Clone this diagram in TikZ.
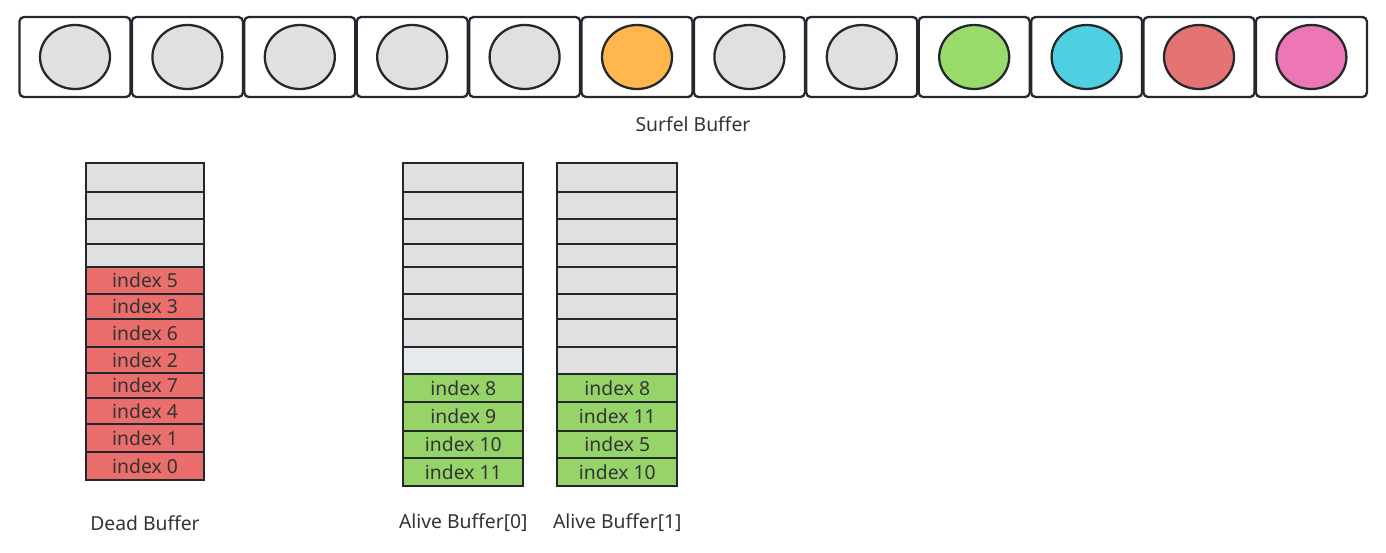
\documentclass[tikz,border=0pt]{standalone}
\usepackage{fontspec}
\setmainfont{Noto Sans}
\usepackage{tikz}
\usetikzlibrary{positioning, shapes.geometric}
\definecolor{cellLine}{HTML}{23282E}
\definecolor{labelText}{HTML}{333333}
\definecolor{emptyGrey}{HTML}{E0E0E0}
\definecolor{freshGrey}{HTML}{E7EAED}
\definecolor{deadRed}{HTML}{EA6E6B}
\definecolor{aliveGreen}{HTML}{96D46A}
\definecolor{surfOrange}{HTML}{FFB74D}
\definecolor{surfGreen}{HTML}{98DB6B}
\definecolor{surfCyan}{HTML}{4DD0E1}
\definecolor{surfRed}{HTML}{E57373}
\definecolor{surfPink}{HTML}{EC77B4}
\tikzset{
  slot/.style={draw=cellLine, line width=1.3pt, rounded corners=2.5pt, fill=white,
    minimum width=2.22cm, minimum height=1.6cm, inner sep=0pt},
  surfel/.style={ellipse, draw=cellLine, line width=1.3pt,
    minimum width=1.4cm, minimum height=1.28cm, inner sep=0pt},
  cell/.style={draw=cellLine, line width=1.3pt, inner sep=0pt,
    font=\fontsize{11}{13}\selectfont, text=labelText},
  caption/.style={font=\fontsize{11}{13}\selectfont, text=labelText}
}

\begin{document}
\begin{tikzpicture}[x=0.02cm, y=-0.02cm]
  \useasboundingbox (0,0) rectangle (1386,552);
  % ── Surfel buffer: twelve slots, five of them in use
  \foreach \i/\c in {0/emptyGrey,1/emptyGrey,2/emptyGrey,3/emptyGrey,4/emptyGrey,5/surfOrange,
                     6/emptyGrey,7/emptyGrey,8/surfGreen,9/surfCyan,10/surfRed,11/surfPink} {
    \node[slot] (slot\i) at ({75+\i*112.4}, 57) {};
    \node[surfel, fill=\c] (surfel\i) at (slot\i.center) {};
  }
  \node[caption] (surfelLabel) at (693, 124) {Surfel Buffer};
  % ── Dead buffer: free indices stacked from the bottom
  \foreach \t/\b/\c/\txt [count=\n] in {163/192/emptyGrey/{}, 192/219/emptyGrey/{}, 219/244/emptyGrey/{},
      244/267/emptyGrey/{}, 267/294/deadRed/index 5, 294/319/deadRed/index 3, 319/347/deadRed/index 6,
      347/373/deadRed/index 2, 373/398/deadRed/index 7, 398/424/deadRed/index 4,
      424/452/deadRed/index 1, 452/480/deadRed/index 0} {
    \pgfmathsetmacro{\h}{(\b-\t)*0.02}
    \node[cell, fill=\c, minimum width=2.36cm, minimum height=\h cm] (dead\n) at (145, {(\t+\b)/2}) {\txt};
  }
  \node[caption] (deadLabel) at (145, 523) {Dead Buffer};
  % ── Alive buffer [0]
  \foreach \t/\b/\c/\txt [count=\n] in {163/192/emptyGrey/{}, 192/219/emptyGrey/{}, 219/244/emptyGrey/{},
      244/267/emptyGrey/{}, 267/294/emptyGrey/{}, 294/319/emptyGrey/{}, 319/347/emptyGrey/{},
      347/374/freshGrey/{}, 374/402/aliveGreen/index 8, 402/431/aliveGreen/index 9,
      431/458/aliveGreen/index 10, 458/486/aliveGreen/index 11} {
    \pgfmathsetmacro{\h}{(\b-\t)*0.02}
    \node[cell, fill=\c, minimum width=2.4cm, minimum height=\h cm] (aliveA\n) at (463.3, {(\t+\b)/2}) {\txt};
  }
  \node[caption] (aliveALabel) at (463.3, 523) {Alive Buffer[0]};
  % ── Alive buffer [1]
  \foreach \t/\b/\c/\txt [count=\n] in {163/192/emptyGrey/{}, 192/219/emptyGrey/{}, 219/244/emptyGrey/{},
      244/267/emptyGrey/{}, 267/294/emptyGrey/{}, 294/319/emptyGrey/{}, 319/347/emptyGrey/{},
      347/374/emptyGrey/{}, 374/402/aliveGreen/index 8, 402/431/aliveGreen/index 11,
      431/458/aliveGreen/index 5, 458/486/aliveGreen/index 10} {
    \pgfmathsetmacro{\h}{(\b-\t)*0.02}
    \node[cell, fill=\c, minimum width=2.4cm, minimum height=\h cm] (aliveB\n) at (617.3, {(\t+\b)/2}) {\txt};
  }
  \node[caption] (aliveBLabel) at (617.3, 523) {Alive Buffer[1]};
\end{tikzpicture}
\end{document}
